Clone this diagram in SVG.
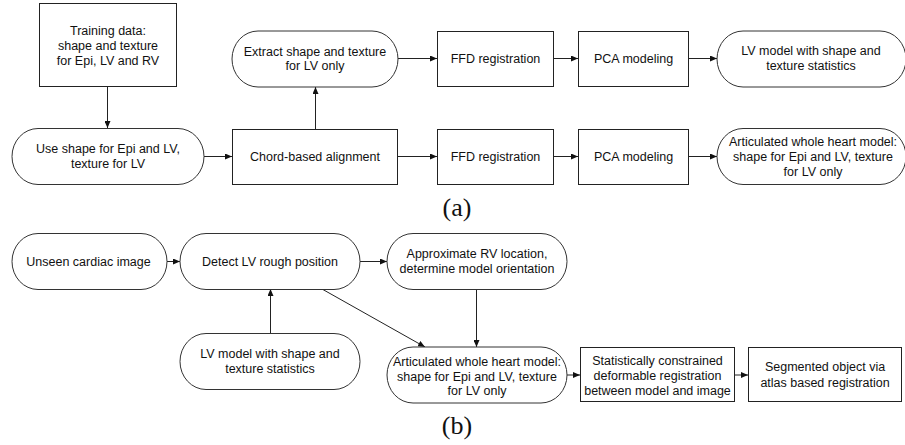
<svg xmlns="http://www.w3.org/2000/svg" width="905" height="445" viewBox="0 0 905 445">
<defs>
<marker id="ah" markerWidth="8" markerHeight="6" refX="7" refY="3" orient="auto" markerUnits="userSpaceOnUse">
<path d="M0,0 L7,3 L0,6 z" fill="#111"/>
</marker>
<style>
.box{fill:#fff;stroke:#222;stroke-width:1}
.pill{fill:#fff;stroke:#333;stroke-width:1}
.t{font-family:"Liberation Sans",Arial,sans-serif;font-size:12.5px;fill:#111;text-anchor:middle}
.lab{font-family:"Liberation Serif","Times New Roman",serif;font-size:26px;fill:#111;text-anchor:middle}
.c{stroke:#222;stroke-width:1;fill:none;marker-end:url(#ah)}
</style>
</defs>
<rect width="905" height="445" fill="#fff"/>
<g id="connectors">
<line class="c" x1="107.5" y1="87" x2="107.5" y2="128"/>
<line class="c" x1="204" y1="156.5" x2="232" y2="156.5"/>
<line class="c" x1="315.5" y1="129" x2="315.5" y2="87"/>
<line class="c" x1="398" y1="58.5" x2="437" y2="58.5"/>
<line class="c" x1="554" y1="58.5" x2="578" y2="58.5"/>
<line class="c" x1="688" y1="58.5" x2="717" y2="58.5"/>
<line class="c" x1="398" y1="156.5" x2="437" y2="156.5"/>
<line class="c" x1="554" y1="156.5" x2="578" y2="156.5"/>
<line class="c" x1="688" y1="156.5" x2="717" y2="156.5"/>
<line class="c" x1="167" y1="261.5" x2="180" y2="261.5"/>
<line class="c" x1="360" y1="261.5" x2="387" y2="261.5"/>
<line class="c" x1="270.5" y1="333" x2="270.5" y2="289"/>
<line class="c" x1="322" y1="289" x2="425" y2="347"/>
<line class="c" x1="476.5" y1="289" x2="476.5" y2="347"/>
<line class="c" x1="567" y1="375" x2="580" y2="375"/>
<line class="c" x1="735" y1="375" x2="748" y2="375"/>
</g>
<g id="training">
<rect class="box" x="39.5" y="3.5" width="137" height="83"/>
<text class="t" x="108" y="34.5">Training data:</text>
<text class="t" x="108" y="49.5">shape and texture</text>
<text class="t" x="108" y="64.5">for Epi, LV and RV</text>
</g>
<g id="useShape">
<rect class="pill" x="12" y="128.5" width="192" height="56" rx="26" ry="28"/>
<text class="t" x="108" y="152.5">Use shape for Epi and LV,</text>
<text class="t" x="108" y="168">texture for LV</text>
</g>
<g id="chord">
<rect class="box" x="232.5" y="129.5" width="165" height="55"/>
<text class="t" x="315" y="161">Chord-based alignment</text>
</g>
<g id="extract">
<rect class="pill" x="232" y="31" width="166" height="56" rx="26" ry="28"/>
<text class="t" x="315" y="56">Extract shape and texture</text>
<text class="t" x="315" y="70">for LV only</text>
</g>
<g id="ffdTop">
<rect class="box" x="437.5" y="31.5" width="116" height="55"/>
<text class="t" x="495.5" y="63">FFD registration</text>
</g>
<g id="pcaTop">
<rect class="box" x="578.5" y="31.5" width="110" height="55"/>
<text class="t" x="633.5" y="63">PCA modeling</text>
</g>
<g id="lvModelTop">
<rect class="pill" x="717" y="31" width="189" height="56" rx="26" ry="28"/>
<text class="t" x="811" y="55">LV model with shape and</text>
<text class="t" x="811" y="70">texture statistics</text>
</g>
<g id="ffdBottom">
<rect class="box" x="437.5" y="129.5" width="116" height="55"/>
<text class="t" x="495.5" y="161">FFD registration</text>
</g>
<g id="pcaBottom">
<rect class="box" x="578.5" y="129.5" width="110" height="55"/>
<text class="t" x="633.5" y="161">PCA modeling</text>
</g>
<g id="articulatedTop">
<rect class="pill" x="717" y="128.5" width="189" height="56" rx="26" ry="28"/>
<text class="t" x="813" y="146">Articulated whole heart model:</text>
<text class="t" x="813" y="161">shape for Epi and LV, texture</text>
<text class="t" x="813" y="176">for LV only</text>
</g>
<text class="lab" x="457" y="216">(a)</text>
<g id="unseen">
<rect class="pill" x="12" y="233.5" width="155" height="56" rx="26" ry="28"/>
<text class="t" x="88.5" y="266">Unseen cardiac image</text>
</g>
<g id="detect">
<rect class="pill" x="180" y="233.5" width="180" height="56" rx="26" ry="28"/>
<text class="t" x="270" y="266">Detect LV rough position</text>
</g>
<g id="approx">
<rect class="pill" x="387" y="233.5" width="180" height="56" rx="26" ry="28"/>
<text class="t" x="477" y="257.5">Approximate RV location,</text>
<text class="t" x="477" y="272.5">determine model orientation</text>
</g>
<g id="lvModelB">
<rect class="pill" x="180" y="333.5" width="180" height="56" rx="26" ry="28"/>
<text class="t" x="270" y="357.5">LV model with shape and</text>
<text class="t" x="270" y="372.5">texture statistics</text>
</g>
<g id="articulatedB">
<rect class="pill" x="387" y="347" width="180" height="56" rx="26" ry="28"/>
<text class="t" x="477" y="366">Articulated whole heart model:</text>
<text class="t" x="477" y="380.5">shape for Epi and LV, texture</text>
<text class="t" x="477" y="394.5">for LV only</text>
</g>
<g id="statistical">
<rect class="box" x="580.5" y="347.5" width="154" height="54"/>
<text class="t" x="657.5" y="364.5">Statistically constrained</text>
<text class="t" x="657.5" y="380">deformable registration</text>
<text class="t" x="657.5" y="394.5">between model and image</text>
</g>
<g id="segmented">
<rect class="box" x="748.5" y="347.5" width="153" height="54"/>
<text class="t" x="825" y="371">Segmented object via</text>
<text class="t" x="825" y="387">atlas based registration</text>
</g>
<text class="lab" x="457" y="434">(b)</text>
</svg>
